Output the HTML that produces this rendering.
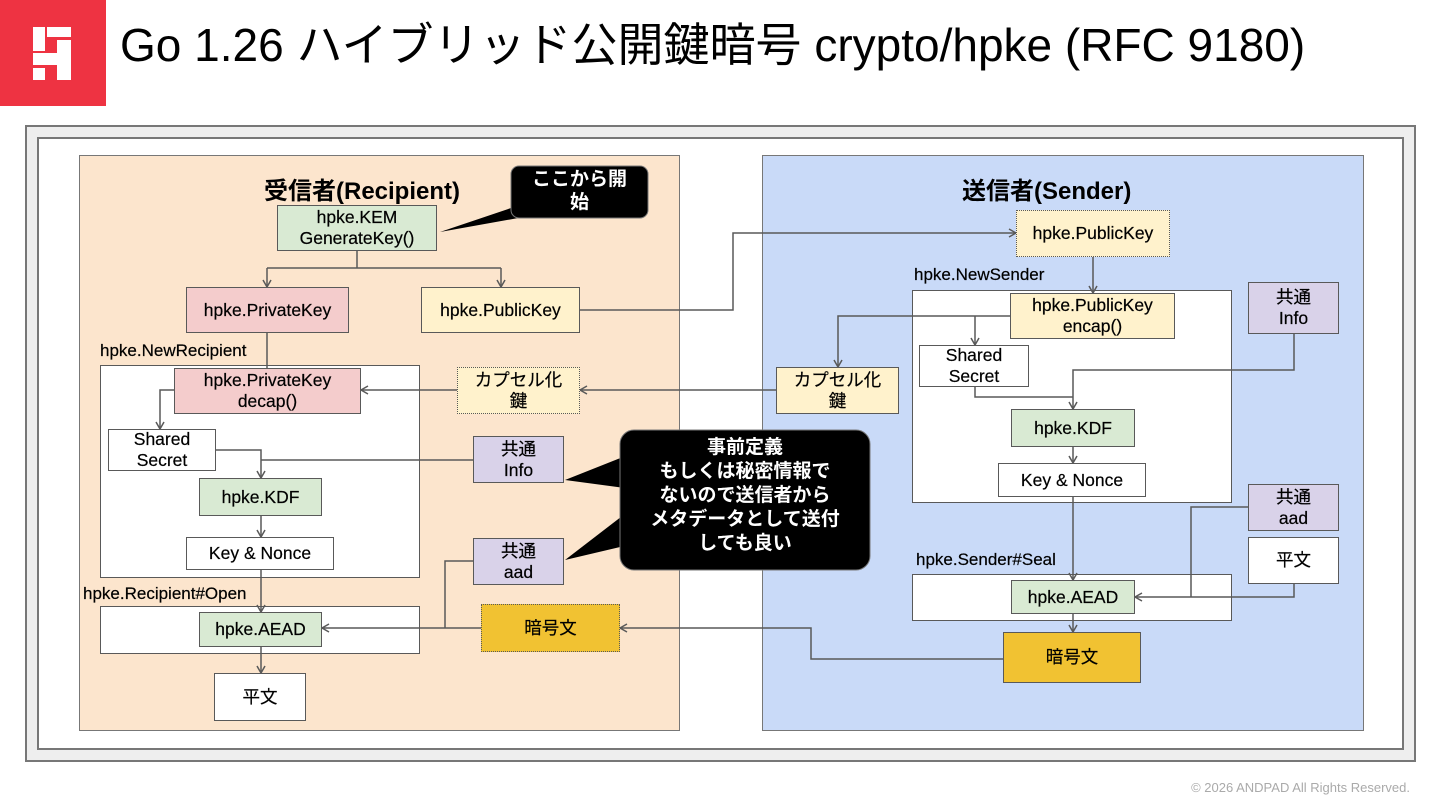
<!DOCTYPE html>
<html><head><meta charset="utf-8"><style>
*{margin:0;padding:0;box-sizing:border-box}
body{width:1440px;height:810px;background:#fff;position:relative;overflow:hidden;font-family:"Liberation Sans","Noto Sans CJK JP",sans-serif}
.a{position:absolute}
.n{position:absolute;border:1.5px solid #595959;display:flex;align-items:center;justify-content:center;text-align:center;font-size:17.5px;line-height:21px;color:#000;-webkit-text-stroke:0.2px #000}
.g{background:#d9ead3}.p{background:#f4cccc}.y{background:#fff2cc}.w{background:#fff}.v{background:#d9d2e9}.o{background:#f1c232}
.d{border-style:dotted}
.lb{position:absolute;font-size:17px;color:#000;-webkit-text-stroke:0.2px #000}
</style></head><body>
<div class="a" style="left:0;top:0;width:106px;height:106px;background:#ee3342"></div>
<div class="a" style="left:33px;top:27px;width:12px;height:24px;background:#fff"></div>
<div class="a" style="left:47px;top:27px;width:24px;height:10px;background:#fff"></div>
<div class="a" style="left:57px;top:40px;width:14px;height:40px;background:#fff"></div>
<div class="a" style="left:33px;top:53px;width:38px;height:12px;background:#fff"></div>
<div class="a" style="left:33px;top:68px;width:12px;height:12px;background:#fff"></div>
<div class="a" style="left:120px;top:17px;font-size:46px;line-height:56px;color:#000">Go 1.26 ハイブリッド公開鍵暗号 crypto/hpke (RFC 9180)</div>
<div class="a" style="left:25px;top:125px;width:1391px;height:637px;background:#eee;border:2px solid #777"></div>
<div class="a" style="left:37px;top:137px;width:1367px;height:613px;background:#fff;border:2px solid #777"></div>
<div class="a" style="left:79px;top:155px;width:601px;height:576px;background:#fce5cd;border:1.5px solid #777"></div>
<div class="a" style="left:762px;top:155px;width:602px;height:576px;background:#c9daf8;border:1.5px solid #777"></div>
<div class="a" style="left:264px;top:171px;font-size:24px;font-weight:bold">受信者(Recipient)</div>
<div class="a" style="left:962px;top:171px;font-size:24px;font-weight:bold">送信者(Sender)</div>

<div class="a" style="left:100px;top:365px;width:320px;height:213px;border:1.5px solid #595959;background:#fff"></div>
<div class="a" style="left:100px;top:606px;width:320px;height:48px;border:1.5px solid #595959;background:#fff"></div>
<div class="a" style="left:912px;top:290px;width:320px;height:213px;border:1.5px solid #595959;background:#fff"></div>
<div class="a" style="left:912px;top:574px;width:320px;height:47px;border:1.5px solid #595959;background:#fff"></div>
<div class="lb" style="left:100px;top:341px">hpke.NewRecipient</div>
<div class="lb" style="left:83px;top:584px">hpke.Recipient#Open</div>
<div class="lb" style="left:914px;top:265px">hpke.NewSender</div>
<div class="lb" style="left:916px;top:550px">hpke.Sender#Seal</div>

<svg class="a" style="left:0;top:0" width="1440" height="810">
<defs><marker id="m" markerWidth="10" markerHeight="10" refX="8" refY="5" orient="auto" markerUnits="userSpaceOnUse"><path d="M1,1 L8,5 L1,9" fill="none" stroke="#595959" stroke-width="1.5"/></marker></defs>
<g fill="none" stroke="#595959" stroke-width="1.5">
<path d="M357,251 V268 M267,268 H501"/>
<path d="M267,268 V287" marker-end="url(#m)"/>
<path d="M501,268 V287" marker-end="url(#m)"/>
<path d="M267,333 V368"/>
<path d="M174,390 H160 V429" marker-end="url(#m)"/>
<path d="M216,450 H261 V478" marker-end="url(#m)"/>
<path d="M473,460 H261"/>
<path d="M261,516 V537" marker-end="url(#m)"/>
<path d="M261,570 V612" marker-end="url(#m)"/>
<path d="M261,647 V673" marker-end="url(#m)"/>
<path d="M473,561 H445 V628"/>
<path d="M481,628 H322" marker-end="url(#m)"/>
<path d="M457,390 H361" marker-end="url(#m)"/>
<path d="M776,390 H580" marker-end="url(#m)"/>
<path d="M580,310 H733 V233 H1016" marker-end="url(#m)"/>
<path d="M1093,257 V293" marker-end="url(#m)"/>
<path d="M1010,316 H838 V367" marker-end="url(#m)"/>
<path d="M975,316 V345" marker-end="url(#m)"/>
<path d="M975,387 V397 H1073"/>
<path d="M1294,334 V370 H1073 V409" marker-end="url(#m)"/>
<path d="M1073,447 V463" marker-end="url(#m)"/>
<path d="M1073,497 V580" marker-end="url(#m)"/>
<path d="M1248,507 H1191 V597"/>
<path d="M1294,584 V597 H1135" marker-end="url(#m)"/>
<path d="M1073,614 V632" marker-end="url(#m)"/>
<path d="M1003,659 H811 V628 H620" marker-end="url(#m)"/>
</g>
<path d="M520,205 L440,232 L535,215 Z" fill="#000"/>
<rect x="511" y="166" width="137" height="52" rx="8" fill="#000" stroke="#777"/>
<path d="M628,455 L565,480 L640,490 Z" fill="#000"/>
<path d="M630,510 L565,560 L650,540 Z" fill="#000"/>
<rect x="620" y="430" width="250" height="140" rx="14" fill="#000" stroke="#777"/>
</svg>
<div class="a" style="left:511px;top:168px;width:137px;color:#fff;font-weight:bold;font-size:19px;line-height:23px;text-align:center">ここから開<br>始</div>
<div class="a" style="left:620px;top:436px;width:250px;color:#fff;font-weight:bold;font-size:19px;line-height:24px;text-align:center">事前定義<br>もしくは秘密情報で<br>ないので送信者から<br>メタデータとして送付<br>しても良い</div>

<div class="n g" style="left:277px;top:205px;width:160px;height:46px">hpke.KEM<br>GenerateKey()</div>
<div class="n p" style="left:186px;top:287px;width:163px;height:46px">hpke.PrivateKey</div>
<div class="n y" style="left:421px;top:287px;width:159px;height:46px">hpke.PublicKey</div>
<div class="n p" style="left:174px;top:368px;width:187px;height:46px">hpke.PrivateKey<br>decap()</div>
<div class="n w" style="left:108px;top:429px;width:108px;height:42px">Shared<br>Secret</div>
<div class="n g" style="left:199px;top:478px;width:123px;height:38px">hpke.KDF</div>
<div class="n w" style="left:186px;top:537px;width:148px;height:33px">Key &amp; Nonce</div>
<div class="n g" style="left:199px;top:612px;width:123px;height:35px">hpke.AEAD</div>
<div class="n w" style="left:214px;top:673px;width:92px;height:48px">平文</div>
<div class="n y d" style="left:457px;top:367px;width:123px;height:47px">カプセル化<br>鍵</div>
<div class="n v" style="left:473px;top:436px;width:91px;height:47px">共通<br>Info</div>
<div class="n v" style="left:473px;top:538px;width:91px;height:47px">共通<br>aad</div>
<div class="n o d" style="left:481px;top:604px;width:139px;height:48px">暗号文</div>

<div class="n y d" style="left:1016px;top:210px;width:154px;height:47px">hpke.PublicKey</div>
<div class="n y" style="left:1010px;top:293px;width:165px;height:46px">hpke.PublicKey<br>encap()</div>
<div class="n w" style="left:919px;top:345px;width:110px;height:42px">Shared<br>Secret</div>
<div class="n g" style="left:1011px;top:409px;width:124px;height:38px">hpke.KDF</div>
<div class="n w" style="left:998px;top:463px;width:148px;height:34px">Key &amp; Nonce</div>
<div class="n v" style="left:1248px;top:282px;width:91px;height:52px">共通<br>Info</div>
<div class="n y" style="left:776px;top:367px;width:123px;height:47px">カプセル化<br>鍵</div>
<div class="n v" style="left:1248px;top:484px;width:91px;height:47px">共通<br>aad</div>
<div class="n w" style="left:1248px;top:537px;width:91px;height:47px">平文</div>
<div class="n g" style="left:1011px;top:580px;width:124px;height:34px">hpke.AEAD</div>
<div class="n o" style="left:1003px;top:632px;width:138px;height:51px">暗号文</div>

<div class="a" style="right:30px;top:780px;font-size:13px;color:#aaa">© 2026 ANDPAD All Rights Reserved.</div>
</body></html>
